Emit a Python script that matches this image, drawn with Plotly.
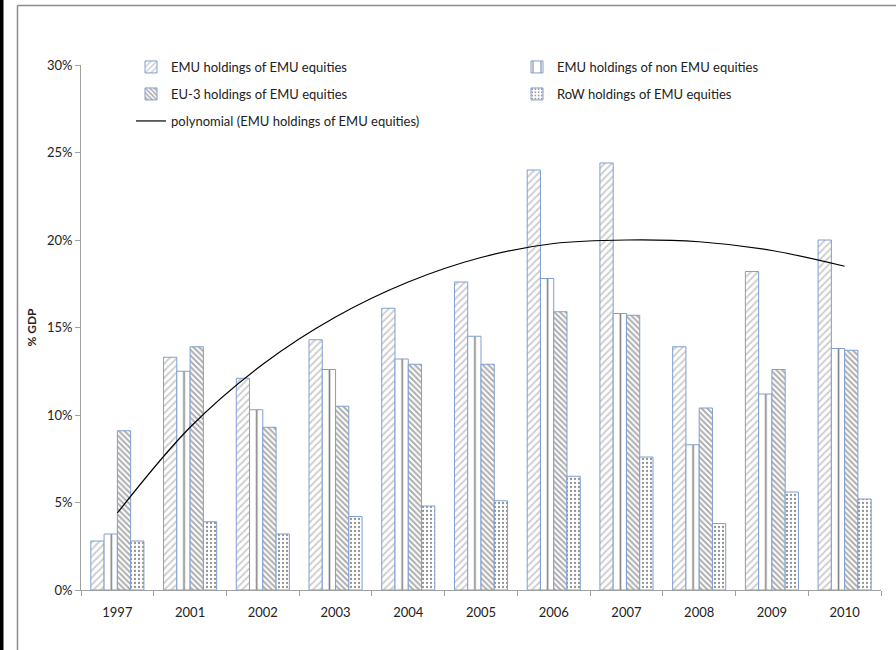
import plotly.graph_objects as go

years = ["1997", "2001", "2002", "2003", "2004", "2005", "2006", "2007", "2008", "2009", "2010"]
emu_emu = [2.8, 13.3, 12.1, 14.3, 16.1, 17.6, 24.0, 24.4, 13.9, 18.2, 20.0]
emu_non = [3.2, 12.5, 10.3, 12.6, 13.2, 14.5, 17.8, 15.8, 8.3, 11.2, 13.8]
eu3_emu = [9.1, 13.9, 9.3, 10.5, 12.9, 12.9, 15.9, 15.7, 10.4, 12.6, 13.7]
row_emu = [2.8, 3.9, 3.2, 4.2, 4.8, 5.1, 6.5, 7.6, 3.8, 5.6, 5.2]
trend = [4.4, 9.3, 12.9, 15.6, 17.6, 19.0, 19.8, 20.0, 19.9, 19.4, 18.5]

names = ["EMU holdings of EMU equities", "EMU holdings of non EMU equities",
         "EU-3 holdings of EMU equities", "RoW holdings of EMU equities",
         "polynomial (EMU holdings of EMU equities)"]

W, H = 896, 650
L, R, T, B = 81, 15, 65, 60
PW, PH = W - L - R, H - T - B

def px(x):
    return (x - L) / PW

def py(y):
    return (H - B - y) / PH

cat_w = PW / len(years)
edge = "#7f9fd0"
fig = go.Figure()
fig.add_bar(x=years, y=emu_emu, name=names[0], legend="legend",
            marker=dict(color="white", line=dict(color=edge, width=1),
                        pattern=dict(shape="/", fgcolor="#9a9a9a", bgcolor="white", size=5, solidity=0.35)))
fig.add_bar(x=years, y=emu_non, name=names[1], legend="legend2",
            marker=dict(color="white", line=dict(color=edge, width=1),
                        pattern=dict(shape="|", fgcolor="black", bgcolor="white", size=cat_w / 6, solidity=0.13)))
fig.add_bar(x=years, y=eu3_emu, name=names[2], legend="legend3",
            marker=dict(color="white", line=dict(color=edge, width=1),
                        pattern=dict(shape="\\", fgcolor="#5a5a5a", bgcolor="white", size=4, solidity=0.5)))
fig.add_bar(x=years, y=row_emu, name=names[3], legend="legend4",
            marker=dict(color="white", line=dict(color=edge, width=1),
                        pattern=dict(shape=".", fgcolor="#222222", bgcolor="white", size=4, solidity=0.25)))
fig.add_scatter(x=years, y=trend, name=names[4], mode="lines", legend="legend5",
                line=dict(color="black", width=1.2, shape="spline", smoothing=1.0))

font = dict(family="Lato, 'Open Sans', sans-serif", size=13, color="#222222")
leg_common = dict(orientation="v", xanchor="left", yanchor="middle", font=font,
                  bgcolor="rgba(0,0,0,0)", borderwidth=0)

fig.update_layout(
    width=W, height=H,
    margin=dict(l=L, r=R, t=T, b=B),
    paper_bgcolor="white", plot_bgcolor="white",
    font=font, showlegend=True,
    barmode="group", bargap=0.27, bargroupgap=0,
    legend=dict(x=px(131), y=py(67), **leg_common),
    legend2=dict(x=px(517), y=py(67), **leg_common),
    legend3=dict(x=px(131), y=py(94), **leg_common),
    legend4=dict(x=px(517), y=py(94), **leg_common),
    legend5=dict(x=px(131), y=py(121), **leg_common),
    xaxis=dict(type="category", showline=True, linecolor="#a0a0a0", linewidth=1,
               ticks="outside", tickson="boundaries", ticklen=5, tickcolor="#a0a0a0",
               showgrid=False, tickfont=font, fixedrange=True, ticklabelstandoff=10),
    yaxis=dict(range=[0, 30], dtick=5, ticksuffix="%", showline=True, linecolor="#a0a0a0",
               linewidth=1, ticks="outside", ticklen=5, tickcolor="#a0a0a0", showgrid=False,
               zeroline=False, tickfont=font,
               title=dict(text="<b>% GDP</b>", font=dict(family="Lato, sans-serif", size=12, color="#222222"),
                          standoff=7)),
    shapes=[
        dict(type="rect", xref="paper", yref="paper", x0=px(0), x1=px(3.5), y0=py(H), y1=py(0),
             fillcolor="black", line=dict(width=0)),
        dict(type="line", xref="paper", yref="paper", x0=px(17.5), x1=px(17.5), y0=py(H), y1=py(5.5),
             line=dict(color="#8c8c8c", width=1.5)),
        dict(type="line", xref="paper", yref="paper", x0=px(17.5), x1=px(W), y0=py(5.5), y1=py(5.5),
             line=dict(color="#8c8c8c", width=1.5)),
    ],
)

fig.write_html("out.html")
